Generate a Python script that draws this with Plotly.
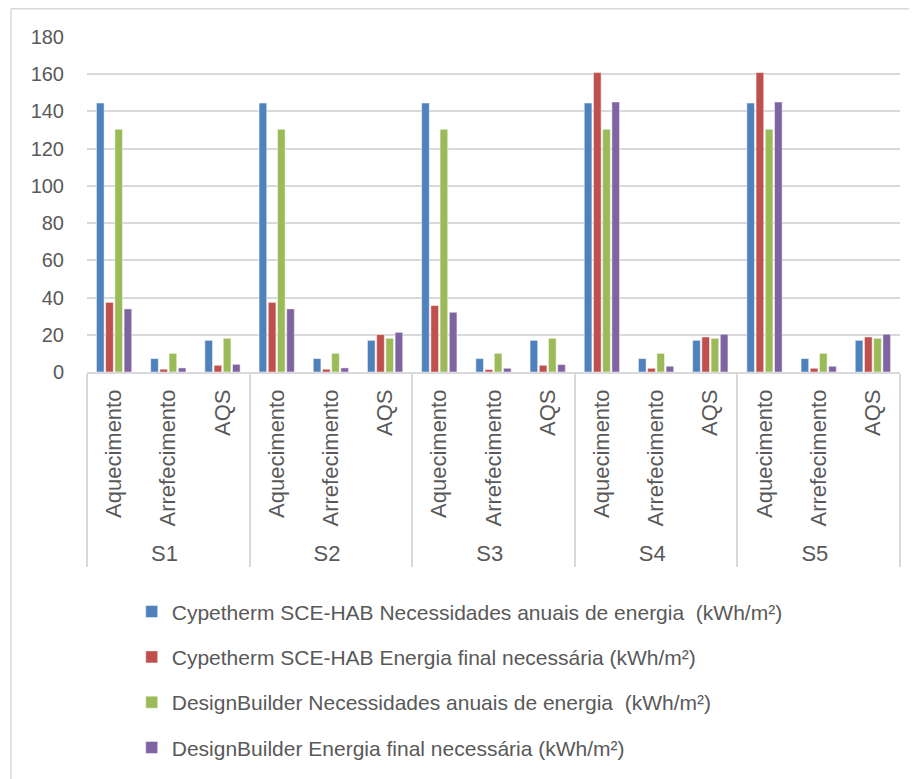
import plotly.graph_objects as go

scenarios = ["S1", "S2", "S3", "S4", "S5"]
uses = ["Aquecimento", "Arrefecimento", "AQS"]

series_names = [
    "Cypetherm SCE-HAB Necessidades anuais de energia  (kWh/m²)",
    "Cypetherm SCE-HAB Energia final necessária (kWh/m²)",
    "DesignBuilder Necessidades anuais de energia  (kWh/m²)",
    "DesignBuilder Energia final necessária (kWh/m²)",
]
colors = ["#4F81BD", "#C0504D", "#9BBB59", "#8064A2"]

cype_necessidades = [144.5, 7.2, 17.0, 144.5, 7.2, 17.0, 144.5, 7.2, 17.0, 144.5, 7.2, 17.0, 144.5, 7.2, 17.0]
cype_energia_final = [37.4, 1.5, 3.6, 37.4, 1.5, 20.1, 35.7, 1.3, 3.6, 160.9, 2.0, 18.8, 160.9, 2.0, 18.8]
db_necessidades = [130.4, 10.0, 18.1, 130.4, 10.0, 18.1, 130.4, 10.0, 18.1, 130.4, 10.0, 18.1, 130.4, 10.0, 18.1]
db_energia_final = [33.9, 2.2, 4.1, 33.9, 2.2, 21.3, 32.1, 2.0, 4.0, 145.1, 3.1, 20.3, 145.1, 3.1, 20.3]

values = [cype_necessidades, cype_energia_final, db_necessidades, db_energia_final]

outer = [s for s in scenarios for _ in uses]
inner = [u for _ in scenarios for u in uses]

fig = go.Figure()
for i, (name, vals) in enumerate(zip(series_names, values)):
    fig.add_trace(go.Bar(
        x=[outer, inner], y=vals, name=name,
        marker=dict(color=colors[i], line=dict(color="rgba(255,255,255,0.6)", width=0.8)),
        legendgroup=f"g{i}",
    ))

font_family = "Liberation Sans, Arial, sans-serif"
grey = "#595959"
border = dict(color="#D9D9D9", width=1.5)

fig.update_layout(
    width=917, height=779,
    margin=dict(l=79, r=25, t=29, b=415, autoexpand=False),
    paper_bgcolor="white", plot_bgcolor="white",
    barmode="group", bargap=0.32, bargroupgap=0.17,
    font=dict(family=font_family, size=20, color=grey),
    showlegend=True,
    legend=dict(
        x=0.055, y=-0.655, xanchor="left", yanchor="top",
        orientation="v", tracegroupgap=15,
        font=dict(size=21, color=grey),
        itemwidth=30,
    ),
    yaxis=dict(
        range=[0, 180], dtick=20, showgrid=True, gridcolor="#D9D9D9", gridwidth=1.5,
        zeroline=False, showline=False, ticks="", ticklabelstandoff=22,
        tickfont=dict(size=20, color=grey), automargin=False,
    ),
    xaxis=dict(
        type="multicategory", tickangle=-90, showline=True, linecolor="#D9D9D9", linewidth=1.5,
        showdividers=True, dividercolor="#D9D9D9", dividerwidth=1.5,
        tickfont=dict(size=22, color=grey), ticks="", automargin=False,
        ticklabelstandoff=7,
    ),
    shapes=[
        dict(type="line", xref="paper", yref="paper", x0=-0.0935, x1=-0.0935, y0=-1.3, y1=1.084,
             line=border),
        dict(type="line", xref="paper", yref="paper", x0=-0.0935, x1=1.0135, y0=1.084, y1=1.084,
             line=border),
        dict(type="line", xref="paper", yref="paper", x0=1.0135, x1=1.0135, y0=-1.3, y1=1.084,
             line=border),
    ],
)

fig.write_html("out.html")
